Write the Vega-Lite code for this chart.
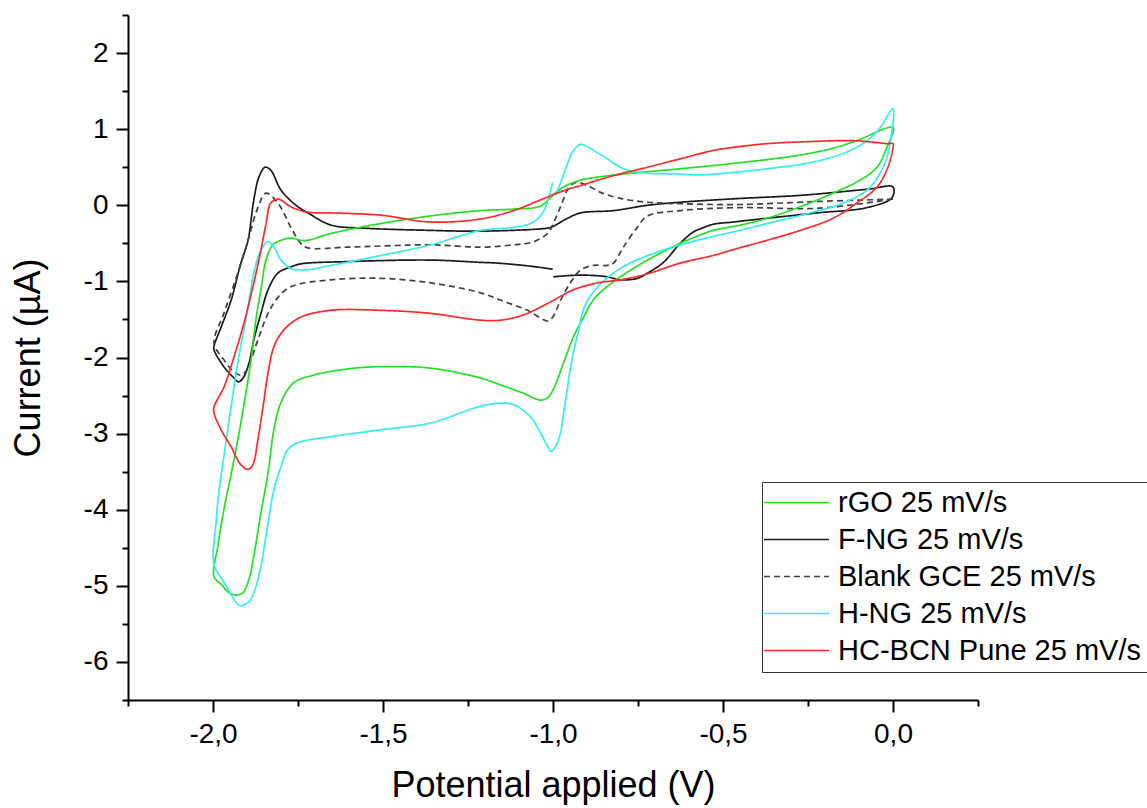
{
 "$schema": "https://vega.github.io/schema/vega-lite/v6.json",
 "width": 850, "height": 685,
 "autosize": {"type": "none"},
 "padding": {"left": 128, "top": 15, "right": 169, "bottom": 108},
 "background": "white",
 "config": {"view": {"stroke": null}, "font": "Liberation Sans"},
 "data": {"values": [
  {"s":"F-NG 25 mV/s","i":1,"v":-1.001,"c":-0.84},{"s":"F-NG 25 mV/s","i":2,"v":-1.066,"c":-0.80},{"s":"F-NG 25 mV/s","i":3,"v":-1.163,"c":-0.76},{"s":"F-NG 25 mV/s","i":4,"v":-1.213,"c":-0.75},{"s":"F-NG 25 mV/s","i":5,"v":-1.360,"c":-0.72},{"s":"F-NG 25 mV/s","i":6,"v":-1.604,"c":-0.74},{"s":"F-NG 25 mV/s","i":7,"v":-1.742,"c":-0.77},{"s":"F-NG 25 mV/s","i":8,"v":-1.771,"c":-0.81},{"s":"F-NG 25 mV/s","i":9,"v":-1.809,"c":-0.89},{"s":"F-NG 25 mV/s","i":10,"v":-1.838,"c":-1.11},{"s":"F-NG 25 mV/s","i":11,"v":-1.859,"c":-1.42},{"s":"F-NG 25 mV/s","i":12,"v":-1.880,"c":-1.77},{"s":"F-NG 25 mV/s","i":13,"v":-1.894,"c":-2.07},{"s":"F-NG 25 mV/s","i":14,"v":-1.909,"c":-2.25},{"s":"F-NG 25 mV/s","i":15,"v":-1.924,"c":-2.32},{"s":"F-NG 25 mV/s","i":16,"v":-1.938,"c":-2.27},{"s":"F-NG 25 mV/s","i":17,"v":-1.968,"c":-2.12},{"s":"F-NG 25 mV/s","i":18,"v":-1.997,"c":-1.90},{"s":"F-NG 25 mV/s","i":19,"v":-1.997,"c":-1.85},{"s":"F-NG 25 mV/s","i":20,"v":-1.976,"c":-1.60},{"s":"F-NG 25 mV/s","i":21,"v":-1.947,"c":-1.25},{"s":"F-NG 25 mV/s","i":22,"v":-1.918,"c":-0.76},{"s":"F-NG 25 mV/s","i":23,"v":-1.897,"c":-0.46},{"s":"F-NG 25 mV/s","i":24,"v":-1.880,"c":0.07},{"s":"F-NG 25 mV/s","i":25,"v":-1.865,"c":0.37},{"s":"F-NG 25 mV/s","i":26,"v":-1.847,"c":0.50},{"s":"F-NG 25 mV/s","i":27,"v":-1.830,"c":0.46},{"s":"F-NG 25 mV/s","i":28,"v":-1.800,"c":0.20},{"s":"F-NG 25 mV/s","i":29,"v":-1.756,"c":0.0},{"s":"F-NG 25 mV/s","i":30,"v":-1.721,"c":-0.10},{"s":"F-NG 25 mV/s","i":31,"v":-1.653,"c":-0.26},{"s":"F-NG 25 mV/s","i":32,"v":-1.557,"c":-0.30},{"s":"F-NG 25 mV/s","i":33,"v":-1.360,"c":-0.33},{"s":"F-NG 25 mV/s","i":34,"v":-1.213,"c":-0.34},{"s":"F-NG 25 mV/s","i":35,"v":-1.037,"c":-0.31},{"s":"F-NG 25 mV/s","i":36,"v":-1.007,"c":-0.29},{"s":"F-NG 25 mV/s","i":37,"v":-0.957,"c":-0.17},{"s":"F-NG 25 mV/s","i":38,"v":-0.919,"c":-0.10},{"s":"F-NG 25 mV/s","i":39,"v":-0.822,"c":-0.07},{"s":"F-NG 25 mV/s","i":40,"v":-0.722,"c":0.0},{"s":"F-NG 25 mV/s","i":41,"v":-0.626,"c":0.04},{"s":"F-NG 25 mV/s","i":42,"v":-0.449,"c":0.09},{"s":"F-NG 25 mV/s","i":43,"v":-0.273,"c":0.13},{"s":"F-NG 25 mV/s","i":44,"v":-0.076,"c":0.21},{"s":"F-NG 25 mV/s","i":45,"v":0.0,"c":0.24},{"s":"F-NG 25 mV/s","i":46,"v":-0.003,"c":0.10},{"s":"F-NG 25 mV/s","i":47,"v":-0.076,"c":-0.03},{"s":"F-NG 25 mV/s","i":48,"v":-0.223,"c":-0.10},{"s":"F-NG 25 mV/s","i":49,"v":-0.370,"c":-0.17},{"s":"F-NG 25 mV/s","i":50,"v":-0.470,"c":-0.22},{"s":"F-NG 25 mV/s","i":51,"v":-0.529,"c":-0.25},{"s":"F-NG 25 mV/s","i":52,"v":-0.567,"c":-0.31},{"s":"F-NG 25 mV/s","i":53,"v":-0.587,"c":-0.35},{"s":"F-NG 25 mV/s","i":54,"v":-0.626,"c":-0.50},{"s":"F-NG 25 mV/s","i":55,"v":-0.675,"c":-0.75},{"s":"F-NG 25 mV/s","i":56,"v":-0.722,"c":-0.89},{"s":"F-NG 25 mV/s","i":57,"v":-0.752,"c":-0.96},{"s":"F-NG 25 mV/s","i":58,"v":-0.802,"c":-0.98},{"s":"F-NG 25 mV/s","i":59,"v":-0.840,"c":-0.94},{"s":"F-NG 25 mV/s","i":60,"v":-0.890,"c":-0.92},{"s":"F-NG 25 mV/s","i":61,"v":-0.940,"c":-0.92},{"s":"F-NG 25 mV/s","i":62,"v":-0.999,"c":-0.94},

  {"s":"Blank GCE 25 mV/s","i":1,"v":0.0,"c":0.08},{"s":"Blank GCE 25 mV/s","i":2,"v":-0.223,"c":0.05},{"s":"Blank GCE 25 mV/s","i":3,"v":-0.449,"c":0.01},{"s":"Blank GCE 25 mV/s","i":4,"v":-0.626,"c":0.02},{"s":"Blank GCE 25 mV/s","i":5,"v":-0.722,"c":0.04},{"s":"Blank GCE 25 mV/s","i":6,"v":-0.802,"c":0.09},{"s":"Blank GCE 25 mV/s","i":7,"v":-0.860,"c":0.17},{"s":"Blank GCE 25 mV/s","i":8,"v":-0.899,"c":0.26},{"s":"Blank GCE 25 mV/s","i":9,"v":-0.928,"c":0.30},{"s":"Blank GCE 25 mV/s","i":10,"v":-0.949,"c":0.26},{"s":"Blank GCE 25 mV/s","i":11,"v":-0.978,"c":-0.02},{"s":"Blank GCE 25 mV/s","i":12,"v":-0.999,"c":-0.24},{"s":"Blank GCE 25 mV/s","i":13,"v":-1.016,"c":-0.37},{"s":"Blank GCE 25 mV/s","i":14,"v":-1.057,"c":-0.48},{"s":"Blank GCE 25 mV/s","i":15,"v":-1.116,"c":-0.52},{"s":"Blank GCE 25 mV/s","i":16,"v":-1.213,"c":-0.55},{"s":"Blank GCE 25 mV/s","i":17,"v":-1.360,"c":-0.52},{"s":"Blank GCE 25 mV/s","i":18,"v":-1.604,"c":-0.55},{"s":"Blank GCE 25 mV/s","i":19,"v":-1.721,"c":-0.56},{"s":"Blank GCE 25 mV/s","i":20,"v":-1.742,"c":-0.50},{"s":"Blank GCE 25 mV/s","i":21,"v":-1.771,"c":-0.29},{"s":"Blank GCE 25 mV/s","i":22,"v":-1.809,"c":0.03},{"s":"Blank GCE 25 mV/s","i":23,"v":-1.844,"c":0.16},{"s":"Blank GCE 25 mV/s","i":24,"v":-1.868,"c":-0.03},{"s":"Blank GCE 25 mV/s","i":25,"v":-1.897,"c":-0.46},{"s":"Blank GCE 25 mV/s","i":26,"v":-1.927,"c":-0.89},{"s":"Blank GCE 25 mV/s","i":27,"v":-1.968,"c":-1.42},{"s":"Blank GCE 25 mV/s","i":28,"v":-1.997,"c":-1.81},{"s":"Blank GCE 25 mV/s","i":29,"v":-1.968,"c":-2.03},{"s":"Blank GCE 25 mV/s","i":30,"v":-1.938,"c":-2.19},{"s":"Blank GCE 25 mV/s","i":31,"v":-1.918,"c":-2.23},{"s":"Blank GCE 25 mV/s","i":32,"v":-1.900,"c":-2.16},{"s":"Blank GCE 25 mV/s","i":33,"v":-1.888,"c":-2.03},{"s":"Blank GCE 25 mV/s","i":34,"v":-1.868,"c":-1.77},{"s":"Blank GCE 25 mV/s","i":35,"v":-1.838,"c":-1.42},{"s":"Blank GCE 25 mV/s","i":36,"v":-1.809,"c":-1.21},{"s":"Blank GCE 25 mV/s","i":37,"v":-1.771,"c":-1.07},{"s":"Blank GCE 25 mV/s","i":38,"v":-1.653,"c":-0.98},{"s":"Blank GCE 25 mV/s","i":39,"v":-1.507,"c":-0.96},{"s":"Blank GCE 25 mV/s","i":40,"v":-1.360,"c":-1.02},{"s":"Blank GCE 25 mV/s","i":41,"v":-1.213,"c":-1.15},{"s":"Blank GCE 25 mV/s","i":42,"v":-1.134,"c":-1.28},{"s":"Blank GCE 25 mV/s","i":43,"v":-1.075,"c":-1.38},{"s":"Blank GCE 25 mV/s","i":44,"v":-1.037,"c":-1.48},{"s":"Blank GCE 25 mV/s","i":45,"v":-1.016,"c":-1.52},{"s":"Blank GCE 25 mV/s","i":46,"v":-1.001,"c":-1.47},{"s":"Blank GCE 25 mV/s","i":47,"v":-0.978,"c":-1.25},{"s":"Blank GCE 25 mV/s","i":48,"v":-0.949,"c":-1.02},{"s":"Blank GCE 25 mV/s","i":49,"v":-0.919,"c":-0.85},{"s":"Blank GCE 25 mV/s","i":50,"v":-0.881,"c":-0.79},{"s":"Blank GCE 25 mV/s","i":51,"v":-0.840,"c":-0.79},{"s":"Blank GCE 25 mV/s","i":52,"v":-0.822,"c":-0.76},{"s":"Blank GCE 25 mV/s","i":53,"v":-0.793,"c":-0.55},{"s":"Blank GCE 25 mV/s","i":54,"v":-0.752,"c":-0.29},{"s":"Blank GCE 25 mV/s","i":55,"v":-0.722,"c":-0.14},{"s":"Blank GCE 25 mV/s","i":56,"v":-0.626,"c":-0.07},{"s":"Blank GCE 25 mV/s","i":57,"v":-0.449,"c":-0.03},{"s":"Blank GCE 25 mV/s","i":58,"v":-0.223,"c":-0.04},{"s":"Blank GCE 25 mV/s","i":59,"v":0.0,"c":0.08},

  {"s":"rGO 25 mV/s","i":1,"v":-0.999,"c":0.14},{"s":"rGO 25 mV/s","i":2,"v":-0.969,"c":0.24},{"s":"rGO 25 mV/s","i":3,"v":-0.919,"c":0.33},{"s":"rGO 25 mV/s","i":4,"v":-0.869,"c":0.37},{"s":"rGO 25 mV/s","i":5,"v":-0.772,"c":0.42},{"s":"rGO 25 mV/s","i":6,"v":-0.626,"c":0.48},{"s":"rGO 25 mV/s","i":7,"v":-0.449,"c":0.56},{"s":"rGO 25 mV/s","i":8,"v":-0.273,"c":0.66},{"s":"rGO 25 mV/s","i":9,"v":-0.176,"c":0.75},{"s":"rGO 25 mV/s","i":10,"v":-0.106,"c":0.85},{"s":"rGO 25 mV/s","i":11,"v":0.0,"c":1.02},{"s":"rGO 25 mV/s","i":12,"v":-0.018,"c":0.76},{"s":"rGO 25 mV/s","i":13,"v":-0.047,"c":0.50},{"s":"rGO 25 mV/s","i":14,"v":-0.097,"c":0.33},{"s":"rGO 25 mV/s","i":15,"v":-0.176,"c":0.16},{"s":"rGO 25 mV/s","i":16,"v":-0.273,"c":-0.02},{"s":"rGO 25 mV/s","i":17,"v":-0.370,"c":-0.17},{"s":"rGO 25 mV/s","i":18,"v":-0.449,"c":-0.26},{"s":"rGO 25 mV/s","i":19,"v":-0.529,"c":-0.33},{"s":"rGO 25 mV/s","i":20,"v":-0.567,"c":-0.39},{"s":"rGO 25 mV/s","i":21,"v":-0.626,"c":-0.50},{"s":"rGO 25 mV/s","i":22,"v":-0.722,"c":-0.72},{"s":"rGO 25 mV/s","i":23,"v":-0.802,"c":-0.94},{"s":"rGO 25 mV/s","i":24,"v":-0.852,"c":-1.11},{"s":"rGO 25 mV/s","i":25,"v":-0.881,"c":-1.24},{"s":"rGO 25 mV/s","i":26,"v":-0.910,"c":-1.47},{"s":"rGO 25 mV/s","i":27,"v":-0.940,"c":-1.73},{"s":"rGO 25 mV/s","i":28,"v":-0.969,"c":-2.07},{"s":"rGO 25 mV/s","i":29,"v":-0.999,"c":-2.42},{"s":"rGO 25 mV/s","i":30,"v":-1.016,"c":-2.53},{"s":"rGO 25 mV/s","i":31,"v":-1.037,"c":-2.56},{"s":"rGO 25 mV/s","i":32,"v":-1.087,"c":-2.47},{"s":"rGO 25 mV/s","i":33,"v":-1.154,"c":-2.36},{"s":"rGO 25 mV/s","i":34,"v":-1.213,"c":-2.27},{"s":"rGO 25 mV/s","i":35,"v":-1.360,"c":-2.14},{"s":"rGO 25 mV/s","i":36,"v":-1.507,"c":-2.12},{"s":"rGO 25 mV/s","i":37,"v":-1.604,"c":-2.15},{"s":"rGO 25 mV/s","i":38,"v":-1.703,"c":-2.23},{"s":"rGO 25 mV/s","i":39,"v":-1.762,"c":-2.33},{"s":"rGO 25 mV/s","i":40,"v":-1.800,"c":-2.59},{"s":"rGO 25 mV/s","i":41,"v":-1.821,"c":-2.95},{"s":"rGO 25 mV/s","i":42,"v":-1.838,"c":-3.51},{"s":"rGO 25 mV/s","i":43,"v":-1.859,"c":-4.04},{"s":"rGO 25 mV/s","i":44,"v":-1.880,"c":-4.61},{"s":"rGO 25 mV/s","i":45,"v":-1.894,"c":-4.91},{"s":"rGO 25 mV/s","i":46,"v":-1.912,"c":-5.09},{"s":"rGO 25 mV/s","i":47,"v":-1.932,"c":-5.12},{"s":"rGO 25 mV/s","i":48,"v":-1.953,"c":-5.09},{"s":"rGO 25 mV/s","i":49,"v":-1.976,"c":-4.98},{"s":"rGO 25 mV/s","i":50,"v":-1.997,"c":-4.88},{"s":"rGO 25 mV/s","i":51,"v":-1.985,"c":-4.46},{"s":"rGO 25 mV/s","i":52,"v":-1.968,"c":-4.00},{"s":"rGO 25 mV/s","i":53,"v":-1.947,"c":-3.54},{"s":"rGO 25 mV/s","i":54,"v":-1.927,"c":-3.08},{"s":"rGO 25 mV/s","i":55,"v":-1.909,"c":-2.62},{"s":"rGO 25 mV/s","i":56,"v":-1.888,"c":-2.03},{"s":"rGO 25 mV/s","i":57,"v":-1.874,"c":-1.51},{"s":"rGO 25 mV/s","i":58,"v":-1.859,"c":-1.11},{"s":"rGO 25 mV/s","i":59,"v":-1.844,"c":-0.72},{"s":"rGO 25 mV/s","i":60,"v":-1.824,"c":-0.52},{"s":"rGO 25 mV/s","i":61,"v":-1.800,"c":-0.46},{"s":"rGO 25 mV/s","i":62,"v":-1.771,"c":-0.43},{"s":"rGO 25 mV/s","i":63,"v":-1.742,"c":-0.46},{"s":"rGO 25 mV/s","i":64,"v":-1.721,"c":-0.46},{"s":"rGO 25 mV/s","i":65,"v":-1.653,"c":-0.37},{"s":"rGO 25 mV/s","i":66,"v":-1.507,"c":-0.24},{"s":"rGO 25 mV/s","i":67,"v":-1.360,"c":-0.14},{"s":"rGO 25 mV/s","i":68,"v":-1.213,"c":-0.07},{"s":"rGO 25 mV/s","i":69,"v":-1.116,"c":-0.05},{"s":"rGO 25 mV/s","i":70,"v":-1.037,"c":-0.01},{"s":"rGO 25 mV/s","i":71,"v":-0.999,"c":0.14},

  {"s":"H-NG 25 mV/s","i":1,"v":-0.993,"c":0.13},{"s":"H-NG 25 mV/s","i":2,"v":-0.978,"c":0.29},{"s":"H-NG 25 mV/s","i":3,"v":-0.957,"c":0.55},{"s":"H-NG 25 mV/s","i":4,"v":-0.940,"c":0.72},{"s":"H-NG 25 mV/s","i":5,"v":-0.919,"c":0.80},{"s":"H-NG 25 mV/s","i":6,"v":-0.899,"c":0.77},{"s":"H-NG 25 mV/s","i":7,"v":-0.869,"c":0.69},{"s":"H-NG 25 mV/s","i":8,"v":-0.840,"c":0.61},{"s":"H-NG 25 mV/s","i":9,"v":-0.802,"c":0.50},{"s":"H-NG 25 mV/s","i":10,"v":-0.743,"c":0.43},{"s":"H-NG 25 mV/s","i":11,"v":-0.626,"c":0.41},{"s":"H-NG 25 mV/s","i":12,"v":-0.567,"c":0.40},{"s":"H-NG 25 mV/s","i":13,"v":-0.470,"c":0.43},{"s":"H-NG 25 mV/s","i":14,"v":-0.370,"c":0.48},{"s":"H-NG 25 mV/s","i":15,"v":-0.244,"c":0.56},{"s":"H-NG 25 mV/s","i":16,"v":-0.147,"c":0.68},{"s":"H-NG 25 mV/s","i":17,"v":-0.076,"c":0.85},{"s":"H-NG 25 mV/s","i":18,"v":-0.038,"c":1.02},{"s":"H-NG 25 mV/s","i":19,"v":0.0,"c":1.27},{"s":"H-NG 25 mV/s","i":20,"v":-0.003,"c":0.98},{"s":"H-NG 25 mV/s","i":21,"v":-0.018,"c":0.63},{"s":"H-NG 25 mV/s","i":22,"v":-0.038,"c":0.42},{"s":"H-NG 25 mV/s","i":23,"v":-0.076,"c":0.20},{"s":"H-NG 25 mV/s","i":24,"v":-0.147,"c":0.03},{"s":"H-NG 25 mV/s","i":25,"v":-0.244,"c":-0.10},{"s":"H-NG 25 mV/s","i":26,"v":-0.370,"c":-0.24},{"s":"H-NG 25 mV/s","i":27,"v":-0.470,"c":-0.35},{"s":"H-NG 25 mV/s","i":28,"v":-0.576,"c":-0.46},{"s":"H-NG 25 mV/s","i":29,"v":-0.690,"c":-0.61},{"s":"H-NG 25 mV/s","i":30,"v":-0.778,"c":-0.77},{"s":"H-NG 25 mV/s","i":31,"v":-0.837,"c":-0.94},{"s":"H-NG 25 mV/s","i":32,"v":-0.878,"c":-1.12},{"s":"H-NG 25 mV/s","i":33,"v":-0.907,"c":-1.33},{"s":"H-NG 25 mV/s","i":34,"v":-0.925,"c":-1.64},{"s":"H-NG 25 mV/s","i":35,"v":-0.946,"c":-2.07},{"s":"H-NG 25 mV/s","i":36,"v":-0.966,"c":-2.65},{"s":"H-NG 25 mV/s","i":37,"v":-0.981,"c":-3.04},{"s":"H-NG 25 mV/s","i":38,"v":-0.999,"c":-3.21},{"s":"H-NG 25 mV/s","i":39,"v":-1.007,"c":-3.23},{"s":"H-NG 25 mV/s","i":40,"v":-1.016,"c":-3.17},{"s":"H-NG 25 mV/s","i":41,"v":-1.037,"c":-2.99},{"s":"H-NG 25 mV/s","i":42,"v":-1.066,"c":-2.78},{"s":"H-NG 25 mV/s","i":43,"v":-1.116,"c":-2.62},{"s":"H-NG 25 mV/s","i":44,"v":-1.154,"c":-2.60},{"s":"H-NG 25 mV/s","i":45,"v":-1.213,"c":-2.64},{"s":"H-NG 25 mV/s","i":46,"v":-1.360,"c":-2.86},{"s":"H-NG 25 mV/s","i":47,"v":-1.507,"c":-2.95},{"s":"H-NG 25 mV/s","i":48,"v":-1.653,"c":-3.04},{"s":"H-NG 25 mV/s","i":49,"v":-1.750,"c":-3.12},{"s":"H-NG 25 mV/s","i":50,"v":-1.780,"c":-3.21},{"s":"H-NG 25 mV/s","i":51,"v":-1.800,"c":-3.43},{"s":"H-NG 25 mV/s","i":52,"v":-1.821,"c":-3.74},{"s":"H-NG 25 mV/s","i":53,"v":-1.838,"c":-4.17},{"s":"H-NG 25 mV/s","i":54,"v":-1.859,"c":-4.74},{"s":"H-NG 25 mV/s","i":55,"v":-1.880,"c":-5.09},{"s":"H-NG 25 mV/s","i":56,"v":-1.897,"c":-5.22},{"s":"H-NG 25 mV/s","i":57,"v":-1.921,"c":-5.26},{"s":"H-NG 25 mV/s","i":58,"v":-1.938,"c":-5.18},{"s":"H-NG 25 mV/s","i":59,"v":-1.968,"c":-4.95},{"s":"H-NG 25 mV/s","i":60,"v":-1.997,"c":-4.72},{"s":"H-NG 25 mV/s","i":61,"v":-1.991,"c":-4.17},{"s":"H-NG 25 mV/s","i":62,"v":-1.982,"c":-3.74},{"s":"H-NG 25 mV/s","i":63,"v":-1.968,"c":-3.30},{"s":"H-NG 25 mV/s","i":64,"v":-1.947,"c":-2.65},{"s":"H-NG 25 mV/s","i":65,"v":-1.924,"c":-1.99},{"s":"H-NG 25 mV/s","i":66,"v":-1.897,"c":-1.34},{"s":"H-NG 25 mV/s","i":67,"v":-1.880,"c":-0.89},{"s":"H-NG 25 mV/s","i":68,"v":-1.859,"c":-0.59},{"s":"H-NG 25 mV/s","i":69,"v":-1.838,"c":-0.48},{"s":"H-NG 25 mV/s","i":70,"v":-1.821,"c":-0.55},{"s":"H-NG 25 mV/s","i":71,"v":-1.800,"c":-0.72},{"s":"H-NG 25 mV/s","i":72,"v":-1.771,"c":-0.83},{"s":"H-NG 25 mV/s","i":73,"v":-1.733,"c":-0.85},{"s":"H-NG 25 mV/s","i":74,"v":-1.653,"c":-0.79},{"s":"H-NG 25 mV/s","i":75,"v":-1.507,"c":-0.66},{"s":"H-NG 25 mV/s","i":76,"v":-1.360,"c":-0.52},{"s":"H-NG 25 mV/s","i":77,"v":-1.213,"c":-0.33},{"s":"H-NG 25 mV/s","i":78,"v":-1.116,"c":-0.29},{"s":"H-NG 25 mV/s","i":79,"v":-1.057,"c":-0.22},{"s":"H-NG 25 mV/s","i":80,"v":-1.027,"c":-0.07},{"s":"H-NG 25 mV/s","i":81,"v":-1.013,"c":0.10},{"s":"H-NG 25 mV/s","i":82,"v":-1.001,"c":0.30},

  {"s":"HC-BCN Pune 25 mV/s","i":1,"v":-0.999,"c":0.14},{"s":"HC-BCN Pune 25 mV/s","i":2,"v":-0.969,"c":0.19},{"s":"HC-BCN Pune 25 mV/s","i":3,"v":-0.919,"c":0.26},{"s":"HC-BCN Pune 25 mV/s","i":4,"v":-0.822,"c":0.39},{"s":"HC-BCN Pune 25 mV/s","i":5,"v":-0.722,"c":0.50},{"s":"HC-BCN Pune 25 mV/s","i":6,"v":-0.626,"c":0.61},{"s":"HC-BCN Pune 25 mV/s","i":7,"v":-0.529,"c":0.72},{"s":"HC-BCN Pune 25 mV/s","i":8,"v":-0.470,"c":0.76},{"s":"HC-BCN Pune 25 mV/s","i":9,"v":-0.370,"c":0.81},{"s":"HC-BCN Pune 25 mV/s","i":10,"v":-0.223,"c":0.84},{"s":"HC-BCN Pune 25 mV/s","i":11,"v":-0.126,"c":0.85},{"s":"HC-BCN Pune 25 mV/s","i":12,"v":-0.059,"c":0.83},{"s":"HC-BCN Pune 25 mV/s","i":13,"v":-0.018,"c":0.81},{"s":"HC-BCN Pune 25 mV/s","i":14,"v":0.0,"c":0.81},{"s":"HC-BCN Pune 25 mV/s","i":15,"v":0.0,"c":0.75},{"s":"HC-BCN Pune 25 mV/s","i":16,"v":-0.015,"c":0.50},{"s":"HC-BCN Pune 25 mV/s","i":17,"v":-0.047,"c":0.24},{"s":"HC-BCN Pune 25 mV/s","i":18,"v":-0.106,"c":0.03},{"s":"HC-BCN Pune 25 mV/s","i":19,"v":-0.176,"c":-0.17},{"s":"HC-BCN Pune 25 mV/s","i":20,"v":-0.273,"c":-0.33},{"s":"HC-BCN Pune 25 mV/s","i":21,"v":-0.370,"c":-0.46},{"s":"HC-BCN Pune 25 mV/s","i":22,"v":-0.460,"c":-0.57},{"s":"HC-BCN Pune 25 mV/s","i":23,"v":-0.529,"c":-0.66},{"s":"HC-BCN Pune 25 mV/s","i":24,"v":-0.626,"c":-0.76},{"s":"HC-BCN Pune 25 mV/s","i":25,"v":-0.722,"c":-0.90},{"s":"HC-BCN Pune 25 mV/s","i":26,"v":-0.802,"c":-0.98},{"s":"HC-BCN Pune 25 mV/s","i":27,"v":-0.869,"c":-1.02},{"s":"HC-BCN Pune 25 mV/s","i":28,"v":-0.940,"c":-1.11},{"s":"HC-BCN Pune 25 mV/s","i":29,"v":-1.016,"c":-1.29},{"s":"HC-BCN Pune 25 mV/s","i":30,"v":-1.087,"c":-1.44},{"s":"HC-BCN Pune 25 mV/s","i":31,"v":-1.154,"c":-1.51},{"s":"HC-BCN Pune 25 mV/s","i":32,"v":-1.213,"c":-1.51},{"s":"HC-BCN Pune 25 mV/s","i":33,"v":-1.360,"c":-1.42},{"s":"HC-BCN Pune 25 mV/s","i":34,"v":-1.507,"c":-1.38},{"s":"HC-BCN Pune 25 mV/s","i":35,"v":-1.653,"c":-1.38},{"s":"HC-BCN Pune 25 mV/s","i":36,"v":-1.742,"c":-1.47},{"s":"HC-BCN Pune 25 mV/s","i":37,"v":-1.792,"c":-1.64},{"s":"HC-BCN Pune 25 mV/s","i":38,"v":-1.821,"c":-1.86},{"s":"HC-BCN Pune 25 mV/s","i":39,"v":-1.838,"c":-2.20},{"s":"HC-BCN Pune 25 mV/s","i":40,"v":-1.853,"c":-2.65},{"s":"HC-BCN Pune 25 mV/s","i":41,"v":-1.868,"c":-3.08},{"s":"HC-BCN Pune 25 mV/s","i":42,"v":-1.883,"c":-3.41},{"s":"HC-BCN Pune 25 mV/s","i":43,"v":-1.897,"c":-3.47},{"s":"HC-BCN Pune 25 mV/s","i":44,"v":-1.918,"c":-3.41},{"s":"HC-BCN Pune 25 mV/s","i":45,"v":-1.947,"c":-3.17},{"s":"HC-BCN Pune 25 mV/s","i":46,"v":-1.976,"c":-2.95},{"s":"HC-BCN Pune 25 mV/s","i":47,"v":-1.997,"c":-2.73},{"s":"HC-BCN Pune 25 mV/s","i":48,"v":-1.997,"c":-2.65},{"s":"HC-BCN Pune 25 mV/s","i":49,"v":-1.968,"c":-2.39},{"s":"HC-BCN Pune 25 mV/s","i":50,"v":-1.938,"c":-1.99},{"s":"HC-BCN Pune 25 mV/s","i":51,"v":-1.909,"c":-1.55},{"s":"HC-BCN Pune 25 mV/s","i":52,"v":-1.880,"c":-1.02},{"s":"HC-BCN Pune 25 mV/s","i":53,"v":-1.859,"c":-0.59},{"s":"HC-BCN Pune 25 mV/s","i":54,"v":-1.844,"c":-0.24},{"s":"HC-BCN Pune 25 mV/s","i":55,"v":-1.830,"c":0.03},{"s":"HC-BCN Pune 25 mV/s","i":56,"v":-1.809,"c":0.08},{"s":"HC-BCN Pune 25 mV/s","i":57,"v":-1.800,"c":0.07},{"s":"HC-BCN Pune 25 mV/s","i":58,"v":-1.771,"c":-0.02},{"s":"HC-BCN Pune 25 mV/s","i":59,"v":-1.721,"c":-0.09},{"s":"HC-BCN Pune 25 mV/s","i":60,"v":-1.653,"c":-0.10},{"s":"HC-BCN Pune 25 mV/s","i":61,"v":-1.507,"c":-0.13},{"s":"HC-BCN Pune 25 mV/s","i":62,"v":-1.360,"c":-0.22},{"s":"HC-BCN Pune 25 mV/s","i":63,"v":-1.213,"c":-0.18},{"s":"HC-BCN Pune 25 mV/s","i":64,"v":-1.116,"c":-0.07},{"s":"HC-BCN Pune 25 mV/s","i":65,"v":-1.037,"c":0.07},{"s":"HC-BCN Pune 25 mV/s","i":66,"v":-0.999,"c":0.14}
 ]},
 "layer": [
  {
   "mark": {"type": "line", "strokeWidth": 1.7, "interpolate": "catmull-rom"},
   "encoding": {
    "x": {"field": "v", "type": "quantitative",
      "scale": {"domain": [-2.25, 0.25], "nice": false, "zero": false},
      "axis": {"orient": "bottom", "values": [-2, -1.5, -1, -0.5, 0], "title": "Potential applied (V)", "titleFontSize": 36, "titleFontWeight": "normal", "titleColor": "#000", "titlePadding": 20, "labelFontSize": 28, "labelColor": "#000", "labelPadding": 8, "labelFlush": false, "labelOverlap": false, "labelExpr": "(datum.value < 0 ? '-' : '') + replace(format(abs(datum.value), '.1f'), '.', ',')", "tickSize": 12, "tickWidth": 2, "tickColor": "#000", "domainColor": "#000", "domainWidth": 2, "grid": false}},
    "y": {"field": "c", "type": "quantitative",
      "scale": {"domain": [-6.5, 2.5], "nice": false, "zero": false},
      "axis": {"orient": "left", "values": [-6, -5, -4, -3, -2, -1, 0, 1, 2], "title": "Current (µA)", "titleFontSize": 36, "titleFontWeight": "normal", "titleColor": "#000", "titlePadding": 36, "labelFontSize": 28, "labelColor": "#000", "labelPadding": 8, "labelFlush": false, "labelOverlap": false, "labelExpr": "(datum.value < 0 ? '-' : '') + format(abs(datum.value), 'd')", "tickSize": 12, "tickWidth": 2, "tickColor": "#000", "domainColor": "#000", "domainWidth": 2, "grid": false}},
    "color": {"field": "s", "type": "nominal",
      "scale": {"domain": ["rGO 25 mV/s", "F-NG 25 mV/s", "Blank GCE 25 mV/s", "H-NG 25 mV/s", "HC-BCN Pune 25 mV/s"], "range": ["#22e022", "#1a1a1a", "#404040", "#33eeee", "#ff2828"]},
      "legend": {"orient": "none", "legendX": 634, "legendY": 467, "title": null, "symbolType": "M-2.85,0H7.15", "symbolSize": 169, "symbolStrokeWidth": 1.5, "labelFontSize": 29, "labelColor": "#000", "labelOffset": 41, "labelLimit": 600, "rowPadding": 7, "padding": 6, "strokeColor": "#333", "fillColor": "#fff"}},
    "strokeDash": {"field": "s", "type": "nominal",
      "scale": {"domain": ["rGO 25 mV/s", "F-NG 25 mV/s", "Blank GCE 25 mV/s", "H-NG 25 mV/s", "HC-BCN Pune 25 mV/s"], "range": [[1, 0], [1, 0], [6, 4], [1, 0], [1, 0]]},
      "legend": {"orient": "none", "legendX": 634, "legendY": 467, "title": null, "symbolType": "M-2.85,0H7.15", "symbolSize": 169, "symbolStrokeWidth": 1.5, "labelFontSize": 29, "labelColor": "#000", "labelOffset": 41, "labelLimit": 600, "rowPadding": 7, "padding": 6, "strokeColor": "#333", "fillColor": "#fff"}},
    "order": {"field": "i", "type": "quantitative"}
   }
  },
  {
   "mark": {"type": "point", "opacity": 0},
   "encoding": {
    "x": {"field": "v", "type": "quantitative",
      "axis": {"orient": "bottom", "values": [-2.25, -1.75, -1.25, -0.75, -0.25, 0.25], "title": null, "labels": false, "domain": false, "grid": false, "tickSize": 6, "tickWidth": 2, "tickColor": "#000"}},
    "y": {"field": "c", "type": "quantitative",
      "axis": {"orient": "left", "values": [-6.5, -5.5, -4.5, -3.5, -2.5, -1.5, -0.5, 0.5, 1.5, 2.5], "title": null, "labels": false, "domain": false, "grid": false, "tickSize": 6, "tickWidth": 2, "tickColor": "#000"}}
   }
  }
 ],
 "resolve": {"axis": {"x": "independent", "y": "independent"}}
}
